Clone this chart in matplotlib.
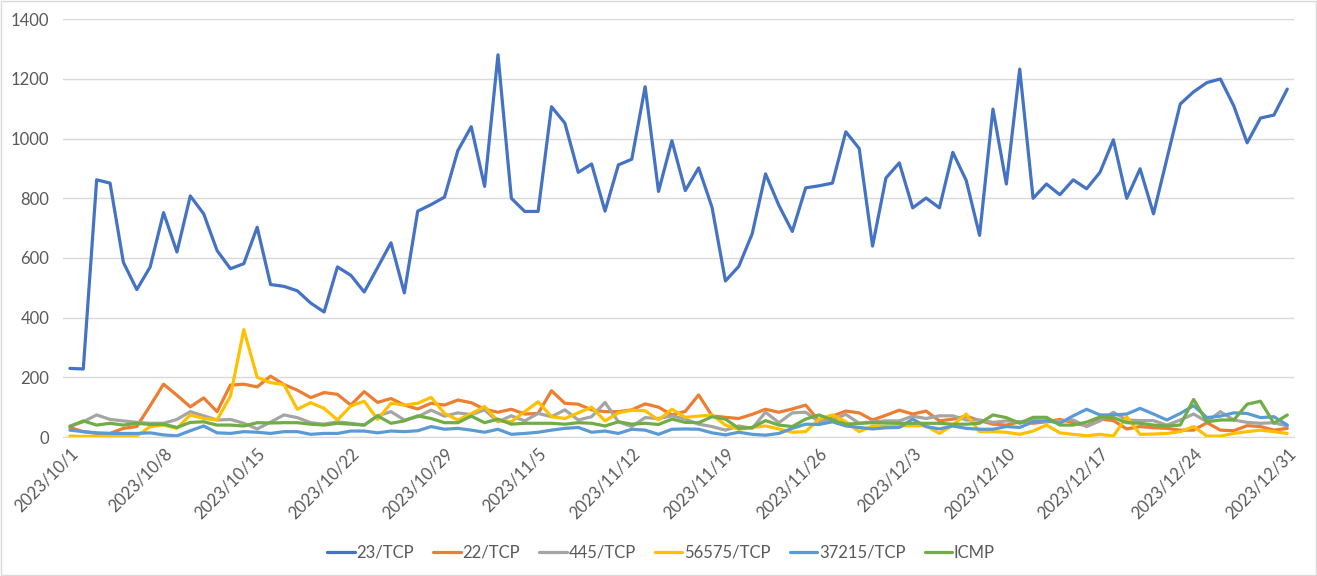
import matplotlib
matplotlib.use('Agg')
import matplotlib.pyplot as plt
import numpy as np
import pandas as pd

##### datos #####
# fechas: 2023/10/1 ... 2023/12/31 (92 dias)
dates = pd.date_range('2023-10-01', '2023-12-31', freq='D')
date_labels = [f'{d.year}/{d.month}/{d.day}' for d in dates]

series_names = ['23/TCP', '22/TCP', '445/TCP', '56575/TCP', '37215/TCP', 'ICMP']

tcp_23 = [230, 228, 862, 851, 585, 494, 570, 752, 620, 808,
          748, 625, 564, 581, 703, 511, 505, 490, 449, 419,
          570, 542, 486, 568, 651, 483, 757, 779, 804, 960,
          1040, 840, 1281, 800, 756, 756, 1107, 1052, 887, 915,
          757, 912, 931, 1174, 823, 993, 826, 902, 770, 523,
          572, 681, 882, 776, 689, 835, 842, 851, 1023, 967,
          640, 868, 919, 768, 801, 768, 954, 860, 676, 1099,
          848, 1233, 800, 848, 812, 862, 832, 887, 996, 800,
          899, 748, 932, 1116, 1157, 1188, 1200, 1110, 986, 1069,
          1079, 1166]

tcp_22 = [32, 18, 12, 12, 29, 35, 105, 177, 140, 101, 131, 85, 174, 177, 168, 204,
          176, 157, 132, 149, 143, 107, 152, 116, 129, 107, 94, 113, 107, 124, 115,
          93, 83, 93, 77, 79, 155, 113, 110, 91, 85, 85, 91, 111, 100, 74, 86,
          141, 71, 66, 62, 76, 93, 83, 94, 107, 54, 70, 87, 81, 57, 73,
          90, 77, 87, 54, 60, 70, 55, 43, 40, 51, 46, 51, 59, 48, 37, 60,
          55, 27, 35, 31, 29, 23, 23, 48, 23, 21, 38, 35, 23, 29]

tcp_445 = [37, 51, 74, 59, 54, 49, 46, 46, 59, 85, 71, 57, 59, 46, 27, 50,
           74, 65, 48, 43, 51, 46, 40, 71, 85, 57, 68, 90, 70, 81, 75,
           91, 51, 71, 54, 79, 68, 91, 57, 68, 116, 51, 35, 65, 62, 71, 60,
           43, 35, 23, 37, 29, 83, 48, 81, 83, 51, 57, 76, 46, 51, 54,
           54, 70, 62, 71, 71, 57, 57, 49, 54, 51, 57, 51, 54, 57, 35, 54,
           83, 57, 55, 55, 40, 57, 77, 51, 85, 57, 49, 46, 48, 37]

tcp_56575 = [3, 2, 2, 2, 2, 3, 35, 40, 29, 74, 62, 57, 137, 360, 200, 182,
             176, 93, 115, 96, 57, 104, 120, 59, 113, 107, 113, 133, 79, 57, 78,
             102, 54, 51, 85, 118, 68, 62, 81, 100, 54, 81, 90, 88, 57, 93, 66,
             70, 74, 40, 26, 32, 37, 27, 16, 18, 60, 74, 51, 18, 37, 36,
             37, 38, 37, 12, 40, 77, 18, 18, 16, 9, 20, 40, 14, 9, 4, 9,
             3, 68, 9, 10, 12, 18, 35, 3, 3, 12, 18, 23, 18, 12]

tcp_37215 = [23, 18, 14, 12, 12, 12, 14, 7, 4, 21, 37, 14, 12, 18, 16, 12,
             18, 18, 9, 12, 12, 20, 20, 14, 20, 18, 21, 35, 26, 29, 23,
             16, 26, 9, 12, 16, 23, 29, 32, 16, 20, 12, 26, 23, 9, 26, 27,
             26, 14, 7, 16, 9, 6, 12, 29, 43, 42, 51, 37, 32, 27, 31,
             32, 60, 35, 27, 37, 29, 26, 26, 35, 32, 51, 55, 46, 71, 93, 74,
             74, 77, 96, 77, 57, 79, 105, 65, 70, 81, 79, 65, 68, 40]

icmp = [35, 54, 40, 46, 40, 46, 42, 43, 32, 49, 51, 40, 40, 37, 48, 47,
        48, 48, 43, 40, 46, 43, 40, 71, 46, 54, 71, 62, 48, 48, 70,
        48, 60, 43, 46, 46, 46, 43, 48, 46, 37, 51, 43, 46, 42, 60, 49,
        48, 68, 60, 29, 32, 55, 40, 35, 60, 74, 57, 43, 46, 48, 47,
        46, 46, 46, 46, 43, 43, 46, 74, 65, 46, 66, 66, 40, 40, 50, 67,
        65, 48, 46, 40, 37, 40, 126, 51, 57, 57, 110, 120, 46, 74]

colors = ['#4472C4', '#ED7D31', '#A5A5A5', '#FFC000', '#5B9BD5', '#70AD47']

###### grafica ######
plt.rcParams['font.family'] = ['Lato', 'DejaVu Sans']

fig = plt.figure(figsize=(13.17, 5.76), dpi=100)
ax = fig.add_axes([0.048, 0.2413, 0.9345, 0.7252])

x = np.arange(len(dates))
all_series = [tcp_23, tcp_22, tcp_445, tcp_56575, tcp_37215, icmp]
for name, vals, c in zip(series_names, all_series, colors):
    ax.plot(x, vals, color=c, lw=2.3, label=name,
            solid_joinstyle='round', solid_capstyle='round')

ax.set_xlim(-0.5, len(dates) - 0.5)
ax.set_ylim(0, 1400)
ax.set_yticks(np.arange(0, 1401, 200))
ax.yaxis.grid(True, color='#D9D9D9', lw=1)
ax.set_axisbelow(True)

# una etiqueta cada 7 dias
tick_pos = x[::7]
ax.set_xticks(tick_pos)
ax.set_xticklabels([date_labels[i] for i in tick_pos], rotation=45,
                   ha='right', rotation_mode='anchor')

for s in ['top', 'right', 'left']:
    ax.spines[s].set_visible(False)
ax.spines['bottom'].set_color('#D9D9D9')
ax.tick_params(axis='both', length=0, colors='#595959', labelsize=12)
ax.tick_params(axis='x', pad=6)
ax.tick_params(axis='y', pad=10)

leg = fig.legend(loc='center', bbox_to_anchor=(0.502, 0.0405), ncol=6,
                 frameon=False, fontsize=12, handlelength=1.65,
                 handletextpad=0.1, columnspacing=1.15)
for t in leg.get_texts():
    t.set_color('#595959')

# borde del area del grafico
fig.patches.append(plt.Rectangle((0.001, 0.001), 0.998, 0.997, transform=fig.transFigure,
                                 fill=False, edgecolor='#D9D9D9', lw=1))

fig.savefig('out.png', dpi=100)
